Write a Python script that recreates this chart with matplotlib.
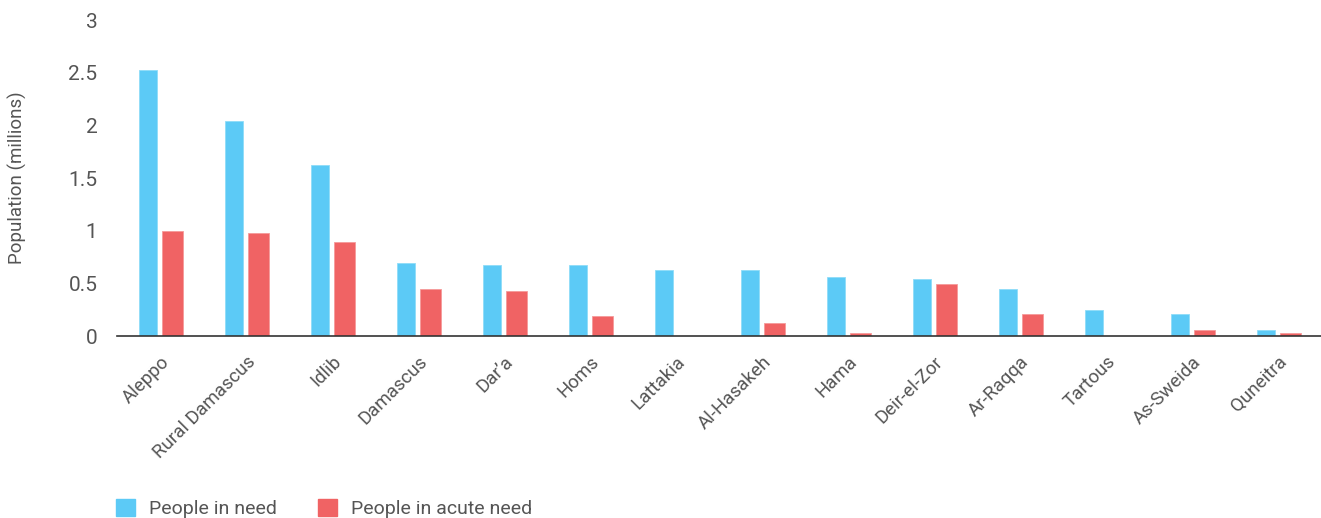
import matplotlib.pyplot as plt
import numpy as np
from matplotlib.patches import Patch

governorates = ["Aleppo", "Rural Damascus", "Idlib", "Damascus", "Dar’a", "Homs",
                "Lattakia", "Al-Hasakeh", "Hama", "Deir-el-Zor", "Ar-Raqqa",
                "Tartous", "As-Sweida", "Quneitra"]
people_in_need = [2.53, 2.04, 1.62, 0.69, 0.67, 0.67, 0.63, 0.63, 0.56, 0.54,
                  0.45, 0.25, 0.21, 0.055]
people_in_acute_need = [1.0, 0.98, 0.89, 0.45, 0.43, 0.19, 0.0, 0.12, 0.03, 0.49,
                        0.21, 0.0, 0.054, 0.03]
yticks = [0, 0.5, 1, 1.5, 2, 2.5, 3]
ytick_labels = ["0", "0.5", "1", "1.5", "2", "2.5", "3"]

azul = "#5ccaf6"
vermelho = "#f06364"
cinza = "#555555"

plt.rcParams["font.family"] = ["Roboto", "DejaVu Sans"]

fig = plt.figure(figsize=(13.21, 5.18), dpi=100)
ax = fig.add_axes([117 / 1321, 1 - 336 / 518, 1 - 117 / 1321, (336 - 20) / 518])

x = np.arange(len(governorates))
ax.bar(x - 0.14, people_in_need, width=0.22, color=azul, edgecolor="#8fdcf8", linewidth=0.6)
ax.bar(x + 0.145, people_in_acute_need, width=0.245, color=vermelho, edgecolor="#f59a9a", linewidth=0.6)

ax.set_xlim(-0.5, len(governorates) - 0.5)
ax.set_ylim(0, 3)
ax.set_yticks(yticks)
ax.set_yticklabels(ytick_labels, fontsize=15, color=cinza)
ax.set_xticks(x)
ax.set_xticklabels(governorates, rotation=45, ha="right", rotation_mode="anchor",
                   fontsize=13.5, color=cinza)
ax.tick_params(axis="y", length=0, pad=14)
ax.tick_params(axis="x", length=0, pad=12)

for lado in ["top", "right", "left"]:
    ax.spines[lado].set_visible(False)
ax.spines["bottom"].set_color("#333333")
ax.spines["bottom"].set_linewidth(1.2)

ax.set_ylabel("Population (millions)", fontsize=13.5, color=cinza, labelpad=30)

handles = [Patch(color=azul, label="People in need"),
           Patch(color=vermelho, label="People in acute need")]
fig.legend(handles=handles, loc="lower left", bbox_to_anchor=(116 / 1321, 0.0),
           ncol=2, frameon=False, fontsize=14, handlelength=1.0, handleheight=1.0,
           handletextpad=0.7, columnspacing=2.1, borderpad=0, borderaxespad=0,
           labelcolor=cinza)

fig.savefig("out.png", dpi=100)
plt.close(fig)
